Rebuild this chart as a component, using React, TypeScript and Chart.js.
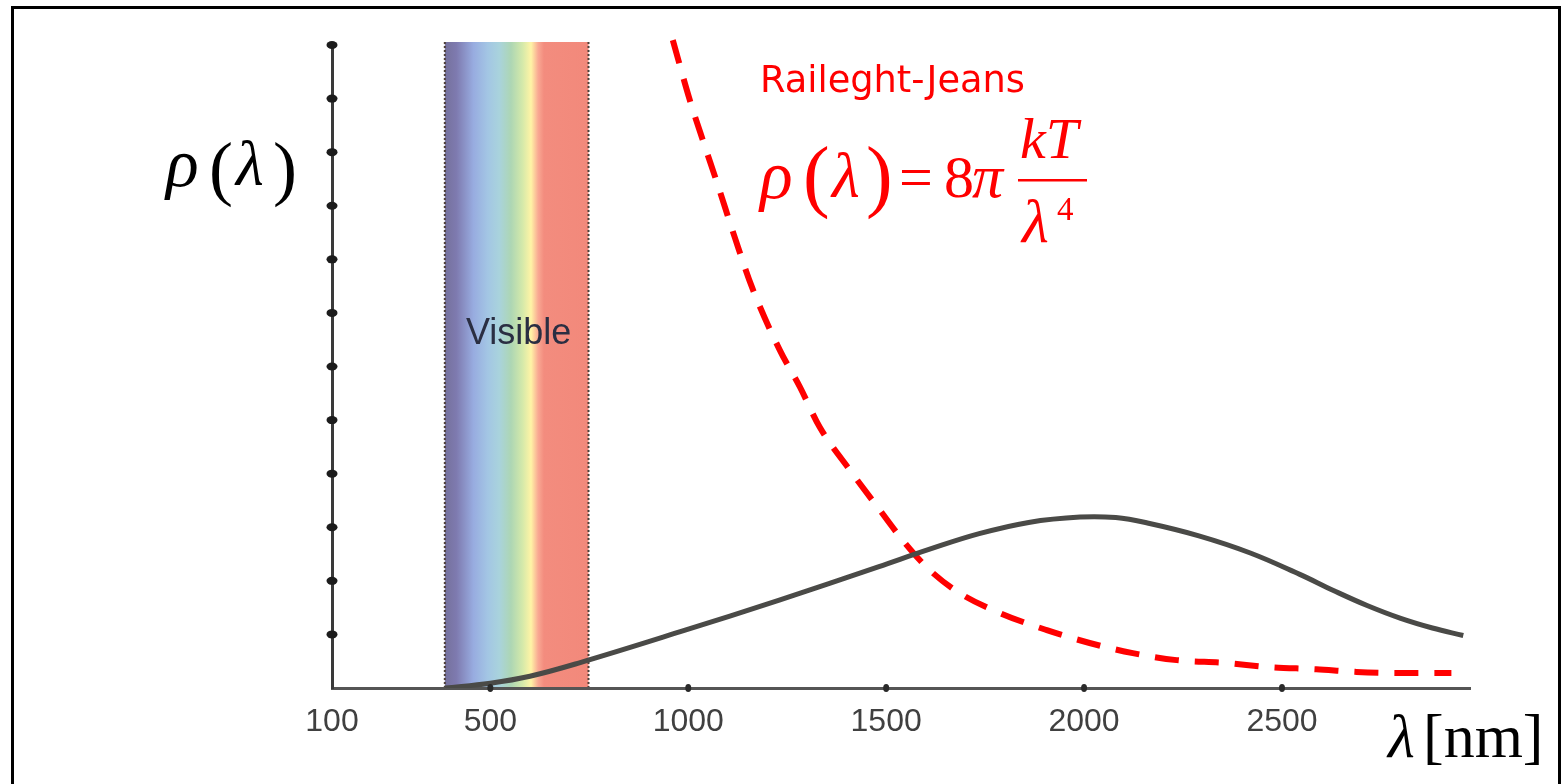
import { useEffect, useRef } from "react";
import { Chart, registerables } from "chart.js";

Chart.register(...registerables);

// Axis ticks
const xTickValues = [100, 500, 1000, 1500, 2000, 2500];
const yTickValues = [0, 1, 2, 3, 4, 5, 6, 7, 8, 9, 10, 11, 12];

// Measured spectral radiance (Planck curve), wavelength in nm
const planckLambda = [385, 500, 600, 725, 980, 1230, 1480, 1610, 1735, 1860, 1990, 2080, 2160, 2290, 2420, 2545, 2630, 2715, 2800, 2880, 2958];
const planckValue = [0, 0.09, 0.22, 0.47, 1.05, 1.64, 2.26, 2.59, 2.88, 3.09, 3.19, 3.18, 3.08, 2.84, 2.52, 2.12, 1.82, 1.54, 1.3, 1.12, 0.98];

// Rayleigh-Jeans prediction
const rjLambda = [961, 1004, 1037, 1075, 1118, 1161, 1231, 1282, 1332, 1408, 1484, 1547, 1610, 1686, 1787, 1906, 2014, 2123, 2234, 2355, 2469, 2587, 2688, 2797, 2928];
const rjValue = [12.09, 10.97, 10.22, 9.38, 8.4, 7.48, 6.31, 5.62, 4.87, 4.07, 3.32, 2.71, 2.2, 1.77, 1.4, 1.08, 0.84, 0.65, 0.52, 0.47, 0.39, 0.35, 0.3, 0.28, 0.28];

// Visible light range (nm)
const visibleBand = [385, 748];

const SERIF = '"Liberation Serif", "Times New Roman", serif';
const SANS = '"Liberation Sans", Arial, sans-serif';

function put(ctx: CanvasRenderingContext2D, text: string, x: number, y: number, font: string, color: string, align: CanvasTextAlign = "left") {
  ctx.font = font;
  ctx.fillStyle = color;
  ctx.textAlign = align;
  ctx.textBaseline = "alphabetic";
  ctx.fillText(text, x, y);
}

const bandPlugin = {
  id: "visibleBand",
  beforeDraw(chart: any) {
    const { ctx, chartArea, scales } = chart;
    const x0 = scales.x.getPixelForValue(visibleBand[0]);
    const x1 = scales.x.getPixelForValue(visibleBand[1]);
    const top = chartArea.top - 3;
    const bottom = chartArea.bottom;
    ctx.save();
    const g = ctx.createLinearGradient(x0, 0, x1, 0);
    g.addColorStop(0.0, "#75719c");
    g.addColorStop(0.08, "#7e7aaf");
    g.addColorStop(0.2, "#98ace0");
    g.addColorStop(0.3, "#a3c6e4");
    g.addColorStop(0.38, "#a9d3dc");
    g.addColorStop(0.46, "#add6b4");
    g.addColorStop(0.54, "#d4e9aa");
    g.addColorStop(0.6, "#fff4a6");
    g.addColorStop(0.65, "#f9a893");
    g.addColorStop(0.69, "#f38c7e");
    g.addColorStop(1.0, "#f2897b");
    ctx.fillStyle = g;
    ctx.fillRect(x0, top, x1 - x0, bottom - top);
    ctx.strokeStyle = "#4e3f38";
    ctx.lineWidth = 2;
    ctx.setLineDash([2, 2]);
    ctx.beginPath();
    ctx.moveTo(x0, top);
    ctx.lineTo(x0, bottom);
    ctx.moveTo(x1, top);
    ctx.lineTo(x1, bottom);
    ctx.stroke();
    ctx.setLineDash([]);
    ctx.filter = "blur(0.7px)";
    put(ctx, "Visible", (x0 + x1) / 2 + 2, 344, `36px ${SANS}`, "#2a2e42", "center");
    ctx.restore();
  },
};

const annotatePlugin = {
  id: "annotate",
  afterDraw(chart: any) {
    const { ctx, chartArea, scales } = chart;
    ctx.save();
    // tick dots on the axes
    ctx.fillStyle = "#1c1c1c";
    for (const v of yTickValues) {
      if (v === 0) continue;
      const y = scales.y.getPixelForValue(v);
      ctx.beginPath();
      ctx.ellipse(chartArea.left, y, 5.5, 4, 0, 0, Math.PI * 2);
      ctx.fill();
    }
    ctx.fillStyle = "#2a2a2a";
    for (const v of xTickValues) {
      if (v === xTickValues[0]) continue;
      const x = scales.x.getPixelForValue(v);
      ctx.beginPath();
      ctx.ellipse(x, chartArea.bottom, 3, 4, 0, 0, Math.PI * 2);
      ctx.fill();
    }

    // y-axis title rho(lambda)
    const ink = "#000";
    put(ctx, "ρ", 166, 186, `italic 68px ${SERIF}`, ink);
    put(ctx, "(", 209, 192, `72px ${SERIF}`, ink);
    put(ctx, "λ", 236, 185, `italic 64px ${SERIF}`, ink);
    put(ctx, ")", 273, 192, `72px ${SERIF}`, ink);

    // x-axis title lambda [nm]
    put(ctx, "λ", 1388, 757, `italic 62px ${SERIF}`, ink);
    put(ctx, "[nm]", 1423, 757, `62px ${SERIF}`, ink);

    // Rayleigh-Jeans label and formula
    const red = "#ff0000";
    ctx.font = `31px "DejaVu Sans", sans-serif`;
    const w = ctx.measureText("Raileght-Jeans").width;
    const size = (31 * 265) / w;
    put(ctx, "Raileght-Jeans", 760, 92, `${size}px "DejaVu Sans", sans-serif`, red);

    put(ctx, "ρ", 760, 198, `italic 68px ${SERIF}`, red);
    put(ctx, "(", 803, 202, `80px ${SERIF}`, red);
    put(ctx, "λ", 832, 197, `italic 64px ${SERIF}`, red);
    put(ctx, ")", 866, 202, `80px ${SERIF}`, red);
    put(ctx, "=", 899, 197, `60px ${SERIF}`, red);
    put(ctx, "8", 944, 197, `60px ${SERIF}`, red);
    put(ctx, "π", 972, 197, `italic 62px ${SERIF}`, red);
    put(ctx, "kT", 1020, 158, `italic 58px ${SERIF}`, red);
    ctx.fillStyle = red;
    ctx.fillRect(1018, 179, 69, 2.5);
    put(ctx, "λ", 1022, 242, `italic 62px ${SERIF}`, red);
    put(ctx, "4", 1057, 220, `33px ${SERIF}`, red);
    ctx.restore();
  },
};

export default function App() {
  const ref = useRef<HTMLCanvasElement>(null);

  useEffect(() => {
    const canvas = ref.current;
    if (!canvas) return;
    const chart = new Chart(canvas, {
      type: "line",
      data: {
        datasets: [
          {
            label: "Planck",
            data: planckLambda.map((x, i) => ({ x, y: planckValue[i] })),
            borderColor: "#4a4a47",
            borderWidth: 5,
            pointRadius: 0,
            tension: 0.4,
            fill: false,
          },
          {
            label: "Raileght-Jeans",
            data: rjLambda.map((x, i) => ({ x, y: rjValue[i] })),
            borderColor: "#ff0000",
            borderWidth: 6,
            borderDash: [24, 16],
            pointRadius: 0,
            cubicInterpolationMode: "monotone",
            fill: false,
            clip: false as any,
          },
        ],
      },
      options: {
        responsive: false,
        devicePixelRatio: 1,
        animation: false,
        layout: { padding: { top: 45, right: 93, left: 0, bottom: 0 } },
        plugins: {
          legend: { display: false },
          tooltip: { enabled: false },
        },
        scales: {
          x: {
            type: "linear",
            min: 100,
            max: 2975,
            afterBuildTicks: (s: any) => {
              s.ticks = xTickValues.map((value) => ({ value }));
            },
            afterFit: (s: any) => {
              s.height = 96;
            },
            grid: { display: false, drawTicks: false },
            border: { display: true, color: "#555555", width: 3 },
            ticks: {
              autoSkip: false,
              maxRotation: 0,
              padding: 15,
              color: "#404040",
              font: { family: "Liberation Sans", size: 32 },
              callback: (v: any) => String(v),
            },
          },
          y: {
            type: "linear",
            min: 0,
            max: 12,
            afterBuildTicks: (s: any) => {
              s.ticks = yTickValues.map((value) => ({ value }));
            },
            afterFit: (s: any) => {
              s.width = 332;
            },
            grid: { display: false, drawTicks: false },
            border: { display: true, color: "#3a3a3a", width: 3 },
            ticks: { display: false },
          },
        },
      },
      plugins: [bandPlugin, annotatePlugin],
    });
    return () => chart.destroy();
  }, []);

  return (
    <>
      <canvas
        ref={ref}
        width={1563}
        height={784}
        style={{ position: "fixed", left: 0, top: 0, width: 1563, height: 784 }}
      />
      <div
        style={{
          position: "fixed",
          left: 11,
          top: 6,
          width: 1550,
          height: 900,
          border: "3px solid #000",
          boxSizing: "border-box",
          pointerEvents: "none",
        }}
      />
    </>
  );
}
